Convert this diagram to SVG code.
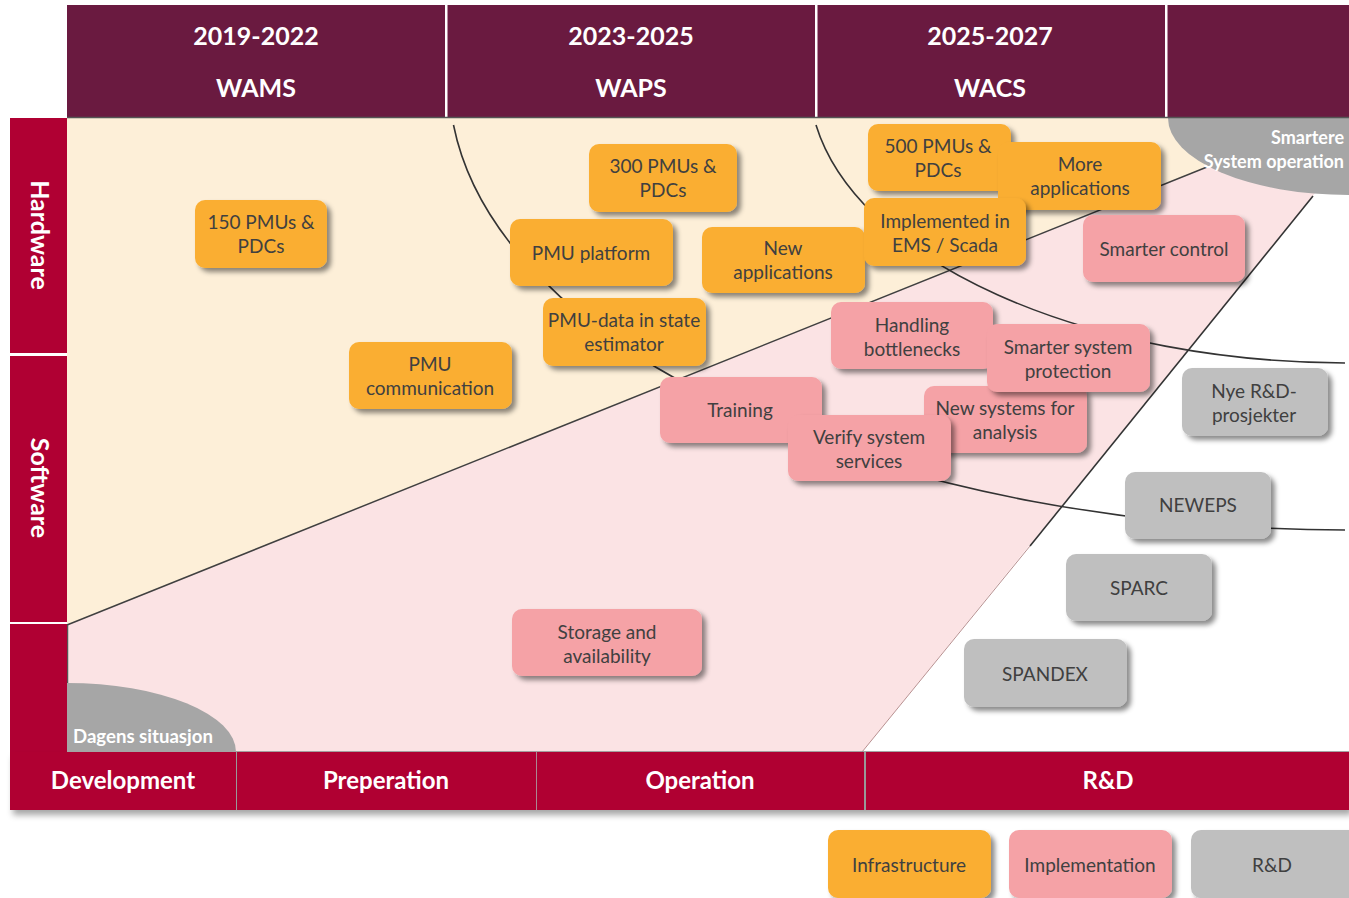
<svg xmlns="http://www.w3.org/2000/svg" width="1349" height="898" viewBox="0 0 1349 898">
<defs>
<filter id="sh" x="-10%" y="-15%" width="130%" height="145%"><feDropShadow dx="4" dy="4" stdDeviation="2.5" flood-color="#000" flood-opacity="0.45"/></filter>
<filter id="bsh" x="-5%" y="-20%" width="110%" height="160%"><feDropShadow dx="3" dy="5" stdDeviation="3" flood-color="#000" flood-opacity="0.35"/></filter>
</defs>
<style>
.hd{fill:#6A1A40}
.ht{font-family:Lato,"Open Sans",sans-serif;font-weight:bold;font-size:25px;fill:#fff;text-anchor:middle}
.bar{fill:#B00033}
.bt{font-family:Lato,"Open Sans",sans-serif;font-weight:bold;font-size:24px;fill:#fff;text-anchor:middle}
.gt{font-family:Lato,"Open Sans",sans-serif;font-weight:bold;font-size:18px;fill:#fff}
.inf{fill:#FAAE33}
.imp{fill:#F5A2A6}
.rd{fill:#BFBFBF}
.lb{font-family:Lato,"Open Sans",sans-serif;font-size:19px;fill:#404040;text-anchor:middle}
.arc{fill:none;stroke:#333;stroke-width:1.6}
.node rect{filter:url(#sh)}
</style>

<!-- background areas -->
<g id="background">
<rect x="67" y="118" width="1282" height="634" fill="#fff"/>
<polygon points="67,118 1262,118 1262,145 67,625" fill="#FDEFD8"/>
<polygon points="67,625 1262,145 1354,145 862,752 67,752" fill="#FBE3E4"/>
<line x1="67" y1="625" x2="1212" y2="165" stroke="#404040" stroke-width="1.5"/>
<line x1="1313" y1="196" x2="1030" y2="546" stroke="#333" stroke-width="1.6"/>
<line x1="1030" y1="546" x2="862" y2="752" stroke="#B89090" stroke-width="1"/>
<line x1="67.5" y1="625" x2="67.5" y2="752" stroke="#555" stroke-width="1.5"/>
<line x1="67" y1="752" x2="1349" y2="752" stroke="#888" stroke-width="1.5"/>
<path d="M1168,118 A181,77 0 0 0 1349,195 L1349,118 Z" fill="#A6A6A6"/>
<text class="gt" x="1344" y="144" text-anchor="end">Smartere</text>
<text class="gt" x="1344" y="168" text-anchor="end">System operation</text>
<path d="M67,683 A169,69 0 0 1 236,752 L67,752 Z" fill="#A6A6A6"/>
<text class="gt" x="73" y="743" style="font-size:18.6px">Dagens situasjon</text>
</g>

<!-- header -->
<g id="header">
<rect class="hd" x="67" y="5" width="1282" height="112"/>
<rect x="445" y="5" width="2.5" height="112" fill="#fff"/>
<rect x="815" y="5" width="2.5" height="112" fill="#fff"/>
<rect x="1165" y="5" width="2.5" height="112" fill="#fff"/>
<line x1="67" y1="117.5" x2="1349" y2="117.5" stroke="#555" stroke-width="1.5"/>
<text class="ht" x="256" y="45">2019-2022</text>
<text class="ht" x="256" y="97">WAMS</text>
<text class="ht" x="631" y="45">2023-2025</text>
<text class="ht" x="631" y="97">WAPS</text>
<text class="ht" x="990" y="45">2025-2027</text>
<text class="ht" x="990" y="97">WACS</text>
</g>

<!-- left bar -->
<g id="leftbar">
<rect class="bar" x="10" y="118" width="57" height="235"/>
<rect class="bar" x="10" y="356" width="57" height="266"/>
<rect class="bar" x="10" y="624" width="57" height="128"/>
<text class="bt" transform="translate(31,235) rotate(90)" style="font-size:25px">Hardware</text>
<text class="bt" transform="translate(31,488) rotate(90)" style="font-size:25px">Software</text>
</g>

<!-- bottom bar -->
<g id="bottombar">
<g filter="url(#bsh)">
<rect class="bar" x="10" y="752" width="227" height="58"/>
<rect class="bar" x="237" y="752" width="300" height="58"/>
<rect class="bar" x="537" y="752" width="328" height="58"/>
<rect class="bar" x="865" y="752" width="484" height="58"/>
</g>
<line x1="236.5" y1="752" x2="236.5" y2="810" stroke="#999" stroke-width="1"/>
<line x1="536.5" y1="752" x2="536.5" y2="810" stroke="#aaa" stroke-width="0.8"/>
<line x1="865" y1="752" x2="865" y2="810" stroke="#999" stroke-width="2"/>
<text class="bt" x="123" y="789">Development</text>
<text class="bt" x="386" y="789">Preperation</text>
<text class="bt" x="700" y="789">Operation</text>
<text class="bt" x="1108" y="789">R&amp;D</text>
</g>

<!-- connectors -->
<g id="connectors">
<path class="arc" d="M453.5,125 A900,450 0 0 0 1345,530"/>
<path class="arc" d="M816,125 A540,283 0 0 0 1345,363"/>
</g>

<!-- nodes -->
<g id="n150" class="node"><rect class="inf" x="195" y="200" width="132" height="68" rx="10"/><text class="lb" x="261" y="229">150 PMUs &amp;</text><text class="lb" x="261" y="253">PDCs</text></g>
<g id="npmucomm" class="node"><rect class="inf" x="349" y="342" width="163" height="67" rx="10"/><text class="lb" x="430" y="371">PMU</text><text class="lb" x="430" y="395">communication</text></g>
<g id="n300" class="node"><rect class="inf" x="589" y="144" width="148" height="68" rx="10"/><text class="lb" x="663" y="173">300 PMUs &amp;</text><text class="lb" x="663" y="197">PDCs</text></g>
<g id="nplatform" class="node"><rect class="inf" x="510" y="219" width="163" height="67" rx="10"/><text class="lb" x="591" y="260">PMU platform</text></g>
<g id="nnewapp" class="node"><rect class="inf" x="702" y="227" width="163" height="66" rx="10"/><text class="lb" x="783" y="255">New</text><text class="lb" x="783" y="279">applications</text></g>
<g id="npmudata" class="node"><rect class="inf" x="543" y="298" width="163" height="68" rx="10"/><text class="lb" x="624" y="327">PMU-data in state</text><text class="lb" x="624" y="351">estimator</text></g>
<g id="n500" class="node"><rect class="inf" x="868" y="124" width="143" height="67" rx="10"/><text class="lb" x="938" y="153">500 PMUs &amp;</text><text class="lb" x="938" y="177">PDCs</text></g>
<g id="nmoreapp" class="node"><rect class="inf" x="998" y="142" width="163" height="68" rx="10"/><text class="lb" x="1080" y="171">More</text><text class="lb" x="1080" y="195">applications</text></g>
<g id="nems" class="node"><rect class="inf" x="864" y="198" width="162" height="68" rx="10"/><text class="lb" x="945" y="228">Implemented in</text><text class="lb" x="945" y="252">EMS / Scada</text></g>
<g id="nsmartctl" class="node"><rect class="imp" x="1083" y="215" width="162" height="67" rx="10"/><text class="lb" x="1164" y="256">Smarter control</text></g>
<g id="nhandling" class="node"><rect class="imp" x="831" y="302" width="162" height="67" rx="10"/><text class="lb" x="912" y="332">Handling</text><text class="lb" x="912" y="356">bottlenecks</text></g>
<g id="nnewsys" class="node"><rect class="imp" x="924" y="386" width="163" height="67" rx="10"/><text class="lb" x="1005" y="415">New systems for</text><text class="lb" x="1005" y="439">analysis</text></g>
<g id="nssp" class="node"><rect class="imp" x="987" y="324" width="163" height="68" rx="10"/><text class="lb" x="1068" y="354">Smarter system</text><text class="lb" x="1068" y="378">protection</text></g>
<g id="ntraining" class="node"><rect class="imp" x="660" y="377" width="162" height="66" rx="10"/><text class="lb" x="740" y="417">Training</text></g>
<g id="nverify" class="node"><rect class="imp" x="788" y="415" width="163" height="66" rx="10"/><text class="lb" x="869" y="444">Verify system</text><text class="lb" x="869" y="468">services</text></g>
<g id="nstorage" class="node"><rect class="imp" x="512" y="609" width="190" height="67" rx="10"/><text class="lb" x="607" y="639">Storage and</text><text class="lb" x="607" y="663">availability</text></g>
<g id="nnye" class="node"><rect class="rd" x="1182" y="368" width="146" height="68" rx="10"/><text class="lb" x="1254" y="398">Nye R&amp;D-</text><text class="lb" x="1254" y="422">prosjekter</text></g>
<g id="nneweps" class="node"><rect class="rd" x="1125" y="472" width="146" height="67" rx="10"/><text class="lb" x="1198" y="512">NEWEPS</text></g>
<g id="nsparc" class="node"><rect class="rd" x="1066" y="554" width="146" height="67" rx="10"/><text class="lb" x="1139" y="595">SPARC</text></g>
<g id="nspandex" class="node"><rect class="rd" x="964" y="639" width="163" height="68" rx="10"/><text class="lb" x="1045" y="681">SPANDEX</text></g>

<!-- legend -->
<g id="leg-inf" class="node"><rect class="inf" x="828" y="830" width="163" height="68" rx="10"/><text class="lb" x="909" y="872">Infrastructure</text></g>
<g id="leg-imp" class="node"><rect class="imp" x="1009" y="830" width="163" height="68" rx="10"/><text class="lb" x="1090" y="872">Implementation</text></g>
<g id="leg-rd" class="node"><rect class="rd" x="1191" y="830" width="172" height="68" rx="10"/><text class="lb" x="1272" y="872">R&amp;D</text></g>
</svg>
